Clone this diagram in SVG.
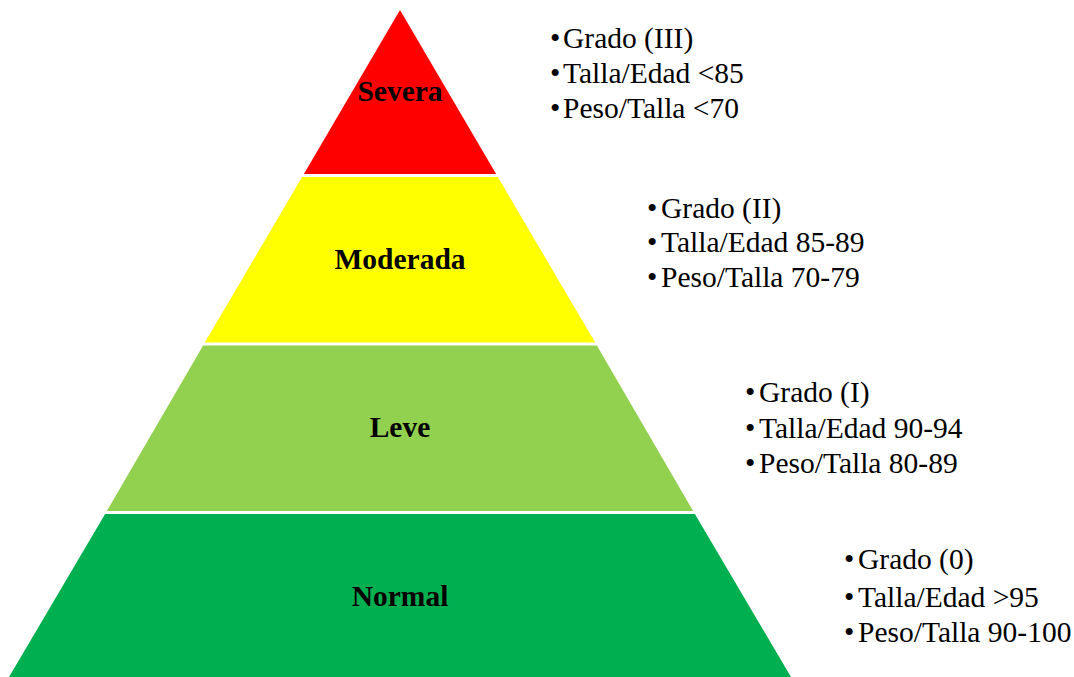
<svg xmlns="http://www.w3.org/2000/svg" width="1074" height="677" viewBox="0 0 1074 677">
<style>
.lvl{font-family:"Liberation Serif","Times New Roman",serif;font-weight:bold;font-size:29.5px;fill:#000;text-anchor:middle}
.it{font-family:"Liberation Serif","Times New Roman",serif;font-size:29.5px;fill:#000}
.sep{stroke:#fff;stroke-width:3}
</style>
<rect width="1074" height="677" fill="#fff"/>
<g id="severa">
<polygon points="400,10 303,175.5 497,175.5" fill="#FF0000"/>
<text class="lvl" x="400" y="101">Severa</text>
</g>
<g id="moderada">
<polygon points="303,175.5 497,175.5 596,344 204,344" fill="#FFFF00"/>
<text class="lvl" x="400" y="269">Moderada</text>
</g>
<g id="leve">
<polygon points="204,344 596,344 694,512.5 106,512.5" fill="#92D050"/>
<text class="lvl" x="400" y="437">Leve</text>
</g>
<g id="normal">
<polygon points="106,512.5 694,512.5 791,677 9,677" fill="#00B050"/>
<text class="lvl" x="400" y="606">Normal</text>
</g>
<g id="separators">
<line class="sep" x1="290" y1="175.5" x2="510" y2="175.5"/>
<line class="sep" x1="190" y1="344" x2="610" y2="344"/>
<line class="sep" x1="90" y1="512.5" x2="710" y2="512.5"/>
</g>
<g id="list-severa">
<text class="it" x="550" y="48">•</text><text class="it" x="563" y="48">Grado (III)</text>
<text class="it" x="550" y="83">•</text><text class="it" x="563" y="83">Talla/Edad &lt;85</text>
<text class="it" x="550" y="118">•</text><text class="it" x="563" y="118">Peso/Talla &lt;70</text>
</g>
<g id="list-moderada">
<text class="it" x="647" y="218">•</text><text class="it" x="661" y="218">Grado (II)</text>
<text class="it" x="647" y="252">•</text><text class="it" x="661" y="252">Talla/Edad 85-89</text>
<text class="it" x="647" y="287">•</text><text class="it" x="661" y="287">Peso/Talla 70-79</text>
</g>
<g id="list-leve">
<text class="it" x="745" y="402">•</text><text class="it" x="759" y="402">Grado (I)</text>
<text class="it" x="745" y="438">•</text><text class="it" x="759" y="438">Talla/Edad 90-94</text>
<text class="it" x="745" y="473">•</text><text class="it" x="759" y="473">Peso/Talla 80-89</text>
</g>
<g id="list-normal">
<text class="it" x="844" y="569">•</text><text class="it" x="858" y="569">Grado (0)</text>
<text class="it" x="844" y="607">•</text><text class="it" x="858" y="607">Talla/Edad &gt;95</text>
<text class="it" x="844" y="642">•</text><text class="it" x="858" y="642">Peso/Talla 90-100</text>
</g>
</svg>
